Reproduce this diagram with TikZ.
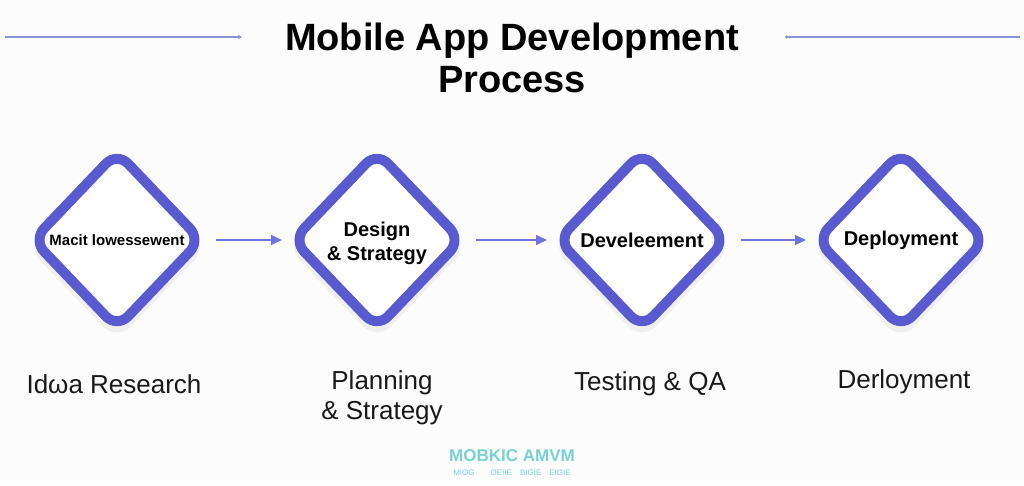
\documentclass[tikz,border=0pt]{standalone}
\usepackage{fontspec}
\setmainfont{Liberation Sans}
\usetikzlibrary{arrows.meta,shapes.geometric,calc}
\definecolor{dstroke}{RGB}{90,90,208}
\definecolor{arrcol}{RGB}{112,116,222}
\definecolor{linecol}{RGB}{140,145,215}
\definecolor{tealc}{RGB}{120,210,212}
\definecolor{bgc}{RGB}{252,252,253}
\tikzset{
  dia/.style={shape=diamond, aspect=1, minimum width=172pt, minimum height=180pt,
    draw=dstroke, line width=10pt, fill=white, rounded corners=16pt, inner sep=0pt},
  shad/.style={shape=diamond, aspect=1, minimum width=182pt, minimum height=190pt,
    fill=black, fill opacity=0.05, draw=none, rounded corners=20pt, inner sep=0pt},
  dtext/.style={font=\bfseries\fontsize{20}{24}\selectfont, align=center, text=black},
  lbl/.style={font=\fontsize{26}{30}\selectfont, align=center, text=black!90},
  arr/.style={draw=arrcol, line width=1.4pt, -{Triangle[length=11pt,width=10pt]},
    shorten <=8pt, shorten >=4pt},
  topline/.style={draw=linecol, line width=1.2pt},
}
\begin{document}
\begin{tikzpicture}[x=1pt,y=-1pt]
\fill[bgc] (0,0) rectangle (1024,485);
\useasboundingbox (0,0) rectangle (1024,485);
% title
\node[font=\bfseries\fontsize{38}{42}\selectfont, align=center] (title) at (512,58)
  {Mobile App Development\\Process};
\coordinate (l1) at (5,37);
\coordinate (l2) at (242,37);
\coordinate (r1) at (785,37);
\coordinate (r2) at (1020,37);
\draw[topline, -{Stealth[length=4pt,width=4pt]}] (l1) -- (l2);
\draw[topline, {Circle[length=3pt]}-] (r1) -- (r2);
% shadows
\foreach \x in {117,377,642,901}{
  \node[shad] at (\x,246) {};
}
% diamonds
\node[dia] (d1) at (117,240) {};
\node[dia] (d2) at (377,240) {};
\node[dia] (d3) at (642,240) {};
\node[dia] (d4) at (901,240) {};
\node[dtext, font=\bfseries\fontsize{15}{18}\selectfont] (t1) at (d1.center) {Macit lowessewent};
\node[dtext] (t2) at ($(d2.center)+(0,3)$) {Design\\\& Strategy};
\node[dtext] (t3) at (d3.center) {Develeement};
\node[dtext] (t4) at (d4.center) {Deployment};
% arrows
\draw[arr] (d1.east) -- (d2.west);
\draw[arr] (d2.east) -- (d3.west);
\draw[arr] (d3.east) -- (d4.west);
% bottom labels
\node[lbl] (b1) at (114,384) {Idωa Research};
\node[lbl] (b2) at (382,398) {Planning\\\& Strategy};
\node[lbl] (b3) at (650,384) {Testing \& QA};
\node[lbl] (b4) at (904,382) {Derloyment};
% watermark
\node[text=tealc, font=\bfseries\fontsize{17}{18}\selectfont] (w1) at (512,456) {MOBKIC AMVM};
\node[text=tealc, font=\fontsize{8}{9}\selectfont] (w2) at (512,473) {MIOG\qquad OEIIE\quad BIGIE\quad EIGIE};
\end{tikzpicture}
\end{document}
